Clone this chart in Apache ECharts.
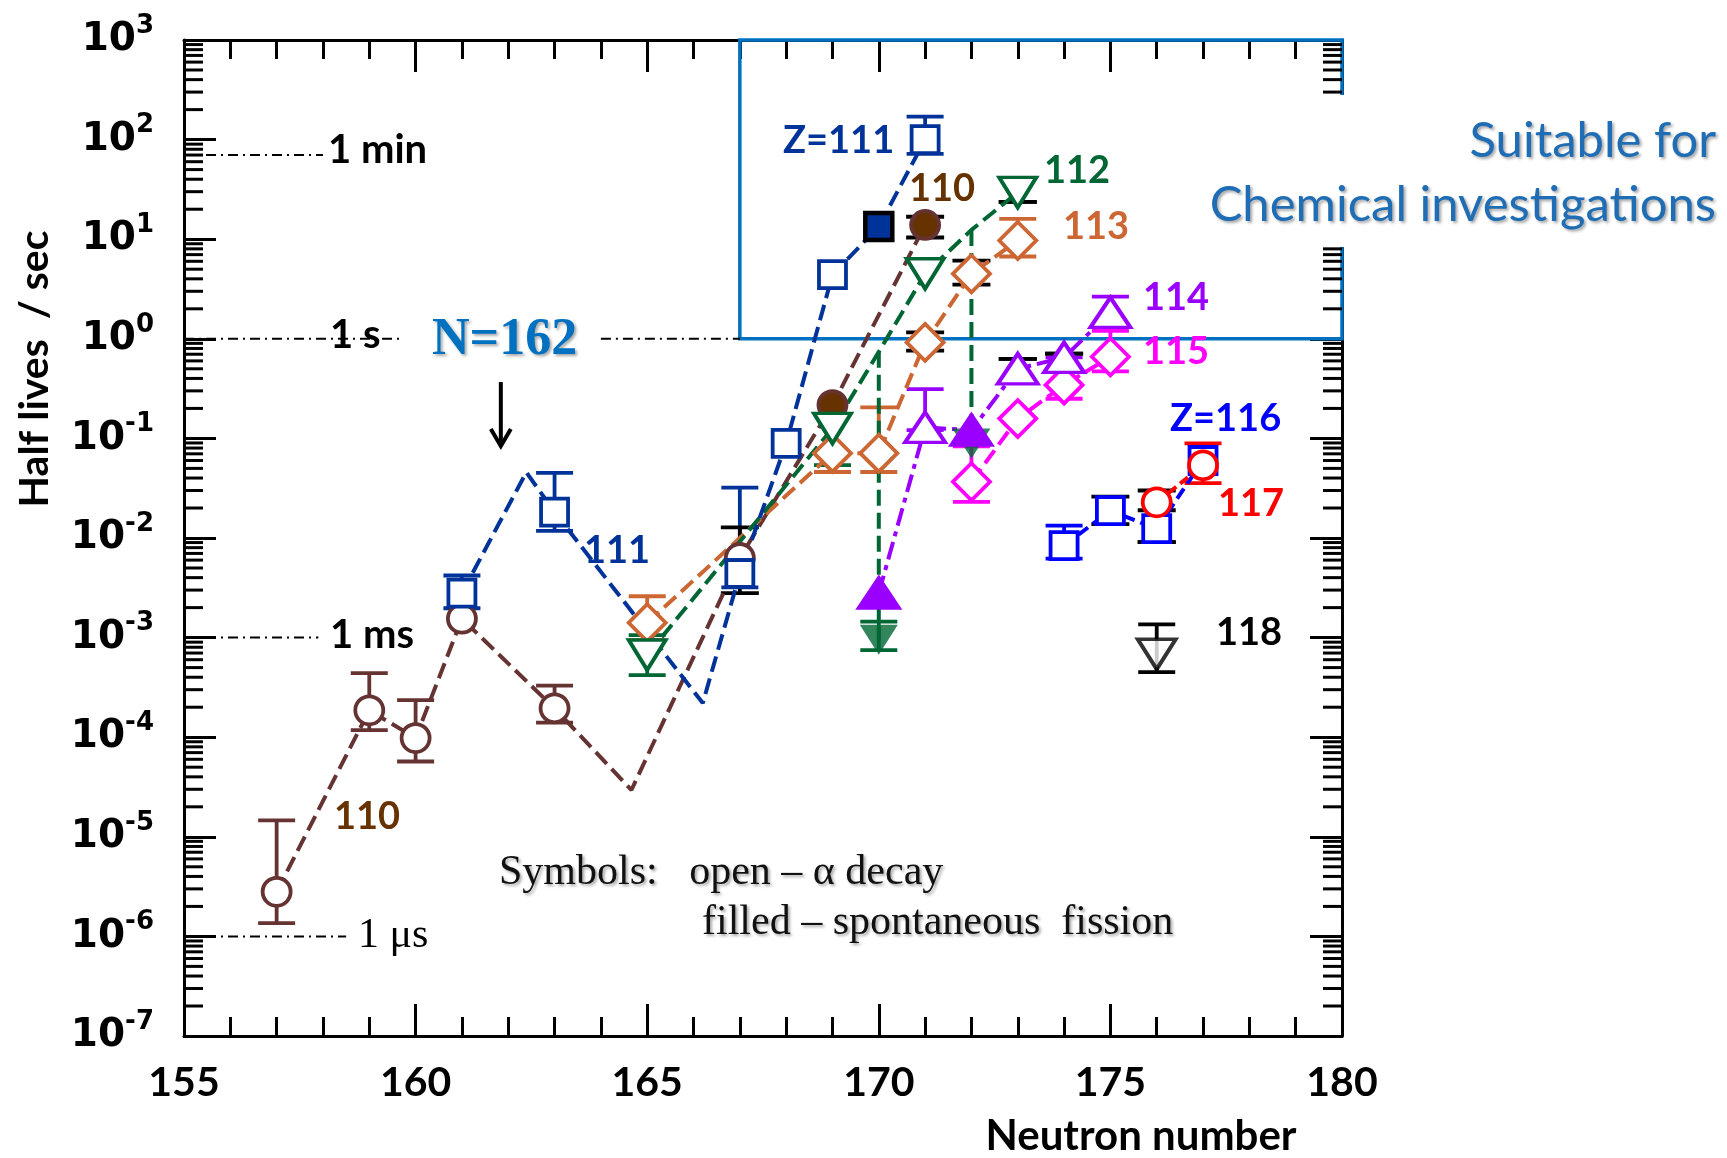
<!DOCTYPE html>
<html><head><meta charset="utf-8">
<script src="https://cdn.jsdelivr.net/npm/echarts@6/dist/echarts.min.js"></script>
<style>html,body{margin:0;padding:0;background:#fff}#c{width:1727px;height:1158px}</style>
</head><body><div id="c"></div><script>
// ---------- data ----------
const xMin = 155, xMax = 180, xStep = 5;
const yMin = 1e-7, yMax = 1e3, yDecadeStep = 1;
const yMinorMantissas = [2,3,4,5,6,7,8,9];
const yMinorDecades = [-7,-6,-5,-4,-3,-2,-1,0,1,2];

// kind: 'o' open symbol, 'f' filled symbol (spontaneous fission), '-' line vertex only
const z110N = [157,159,160,161,163,164.66,167,169,171];
const z110T = [2.8e-6,1.86e-4,9.8e-5,1.55e-3,1.95e-4,2.95e-5,6.3e-3,0.216,13.9];
const z110K = ['o','o','o','o','o','-','o','f','f'];
const z110Err = [[157,1.46e-5,1.36e-6],[159,4.4e-4,1.18e-4],[160,2.36e-4,5.7e-5],[163,3.3e-4,1.4e-4]];

const z111N = [161,162.39,163,166.2,167,168,169,170,171];
const z111T = [2.8e-3,0.0457,0.0182,2.2e-4,4.4e-3,0.089,4.4,13.4,100];
const z111K = ['o','-','o','-','o','o','o','f','o'];
const z111Err = [[161,4.2e-3,1.97e-3],[163,0.045,0.0118],[167,0.032,3.2e-3],[171,170,72]];

const z112N = [165,169,170,171,172,173];
const z112T = [6.7e-4,0.126,0.74,4.5,12.4,29.5];
const z112K = ['o','o','-','o','-','o'];
const z112FissN = [170,172];
const z112FissT = [9.5e-4,0.089];
const z112Err = [[165,1.06e-3,4.2e-4],[169,0.17,0.054],[170,1.45e-3,7.5e-4]];

const z113N = [165,169,170,171,172,173];
const z113T = [1.41e-3,0.071,0.071,0.92,4.5,9.7];
const z113K = ['o','o','o','o','o','o'];
const z113Err = [[165,2.6e-3,9.5e-4],[169,0.071,0.046],[170,0.205,0.046],[173,16,6.7]];

const z114N = [170,171,172,173,174,175];
const z114T = [2.8e-3,0.129,0.121,0.50,0.65,1.84];
const z114K = ['f','o','f','o','o','o'];
const z114Err = [[171,0.313,0.121],[174,0.65,0.5],[175,2.65,1.41]];

const z115N = [172,173,174,175];
const z115T = [0.0367,0.158,0.344,0.66];
const z115K = ['o','o','o','o'];
const z115Err = [[172,0.083,0.023],[174,0.47,0.25],[175,1.2,0.47]];

const z116N = [174,175,176,177];
const z116T = [8.4e-3,0.0188,0.0124,0.06];
const z116K = ['o','o','o','o'];
const z116Err = [[174,0.0133,6.2e-3]];

const z117N = [176,177];
const z117T = [0.0228,0.0537];
const z117K = ['o','o'];
const z117Err = [[177,0.089,0.0355]];

const z118N = [176];
const z118T = [6.8e-4];
const z118Err = [[176,1.36e-3,4.5e-4]];

const blackErr = [[167,0.0128,2.8e-3],[171,16.8,10.4],[171,1.16,0.76],[172,6.1,3.5],[173,23.7,23.7],
                  [173,0.63,0.63],[174,0.71,0.71],[175,0.026,0.0138],[176,0.030,0.019],[176,9.1e-3,9.1e-3]];

// reference time lines: value, segments in N
const refT = [70, 1, 1e-3, 1e-6];
const refSegs = [[[155,158.0]], [[155,159.7],[164.0,167]], [[155,157.9]], [[155,158.5]]];
const refLabels = ['1 min', '1 s', '1 ms', '1 μs'];

// N=162 arrow
const arrowN = 161.84, arrowTop = 0.368, arrowBottom = 0.084;

// chemistry box
const boxN = [167, 180], boxT = [1, 1000];

// ---------- chart ----------
const chart = echarts.init(document.getElementById('c'), null, {renderer:'canvas'});
const LW = 3.8;

function lineSeries(N, T, K, color, o) {
  const data = N.map((n, i) => {
    const item = {value:[n, T[i]]};
    if (K[i] === '-') item.symbol = 'none';
    else if (K[i] === 'f') item.itemStyle = {color: o.fill || color, borderColor: o.fillBorder || color, borderWidth: o.fillBorderWidth || LW};
    return item;
  });
  return {type:'line', data, symbol:o.symbol, symbolSize:o.size, symbolRotate:o.rotate || 0,
    lineStyle:{color, width:4, type:o.dash || [16,7]},
    itemStyle:{color:'#fff', borderColor:color, borderWidth:LW},
    z:3, silent:true, animation:false, clip:false};
}
function errSeries(data, color, half) {
  return {type:'custom', data, encode:{x:0, y:[1,2]}, z:2, silent:true, animation:false, clip:false,
    renderItem(params, api) {
      const x = api.value(0);
      const a = api.coord([x, api.value(1)]);
      const b = api.coord([x, api.value(2)]);
      const st = {stroke:color, lineWidth:LW};
      return {type:'group', children:[
        {type:'line', shape:{x1:a[0], y1:a[1], x2:b[0], y2:b[1]}, style:st},
        {type:'line', shape:{x1:a[0]-half, y1:a[1], x2:a[0]+half, y2:a[1]}, style:st},
        {type:'line', shape:{x1:b[0]-half, y1:b[1], x2:b[0]+half, y2:b[1]}, style:st}]};
    }};
}

const C110 = '#663333', C111 = '#003399', C112 = '#006633', C113 = '#CC6633', C114 = '#9900FF',
      C115 = '#FF00FF', C116 = '#0000FF', C117 = '#FF0000', C118 = '#000000';

const series = [];
// minor log ticks on left and right
const minorData = [];
yMinorDecades.forEach(e => yMinorMantissas.forEach(m => minorData.push([xMin, m * Math.pow(10, e)])));
series.push({type:'custom', data:minorData, encode:{x:0, y:1}, z:1, silent:true, animation:false, clip:false,
  renderItem(params, api) {
    const v = api.value(1);
    const L = api.coord([xMin, v]), R = api.coord([xMax, v]);
    const st = {stroke:'#000', lineWidth:3};
    return {type:'group', children:[
      {type:'line', shape:{x1:L[0], y1:L[1], x2:L[0]+19, y2:L[1]}, style:st},
      {type:'line', shape:{x1:R[0], y1:R[1], x2:R[0]-19, y2:R[1]}, style:st}]};
  }});
// reference dash-dot lines
refT.forEach((t, i) => refSegs[i].forEach(s => series.push({type:'line', data:[[s[0], t],[s[1], t]], symbol:'none',
  lineStyle:{color:'#000', width:2, type:[10,5,2,5]}, z:1, silent:true, animation:false, clip:false})));

// error bars
series.push(errSeries(z110Err, C110, 18.5));
series.push(errSeries(z111Err, C111, 18.5));
series.push(errSeries(z112Err, C112, 18.5));
series.push(errSeries(z113Err, C113, 18.5));
series.push(errSeries(z114Err, C114, 18.5));
series.push(errSeries(z115Err, C115, 18.5));
series.push(errSeries(z116Err, C116, 18.5));
series.push(errSeries(z117Err, C117, 18.5));
series.push(errSeries(z118Err, C118, 18.5));
series.push(errSeries(blackErr, '#000', 19));

// green vertical drops to fission points
z112FissN.forEach((n, i) => {
  const top = z112T[z112N.indexOf(n)];
  series.push({type:'line', data:[[n, top],[n, z112FissT[i]]], symbol:'none',
    lineStyle:{color:C112, width:4, type:[16,7]}, z:2, silent:true, animation:false});
});

series.push(lineSeries(z110N, z110T, z110K, C110, {symbol:'circle', size:28, fill:'#663300', fillBorder:C110}));
series.push(lineSeries(z113N, z113T, z113K, C113, {symbol:'diamond', size:[37,37]}));
series.push(lineSeries(z112N, z112T, z112K, C112, {symbol:'triangle', size:[37,30], rotate:180}));
series.push({type:'scatter', data:z112FissN.map((n,i)=>[n, z112FissT[i]]), symbol:'triangle', symbolSize:[38,30], symbolRotate:180,
  itemStyle:{color:C112}, z:3, silent:true, animation:false});
series.push(lineSeries(z111N, z111T, z111K, C111, {symbol:'rect', size:27, fill:C111, fillBorder:'#000', fillBorderWidth:4.5}));
series.push(lineSeries(z115N, z115T, z115K, C115, {symbol:'diamond', size:[37,37], dash:[16,7]}));
series.push(lineSeries(z114N, z114T, z114K, C114, {symbol:'triangle', size:[40,30], dash:[18,6,5,6]}));
series.push(lineSeries(z116N, z116T, z116K, C116, {symbol:'rect', size:27, dash:[12,6]}));
series.push(lineSeries(z117N, z117T, z117K, C117, {symbol:'circle', size:28, dash:[10,5]}));
series.push({type:'scatter', data:z118N.map((n,i)=>[n, z118T[i]]), symbol:'triangle', symbolSize:[38,30], symbolRotate:180,
  itemStyle:{color:'#fff', borderColor:C118, borderWidth:LW}, z:3, silent:true, animation:false, clip:false,
  markArea:{silent:true, itemStyle:{color:'rgba(0,0,0,0)', borderColor:'#0070C0', borderWidth:3.5},
    data:[[{coord:[boxN[0], boxT[0]]}, {coord:[boxN[1], boxT[1]]}]]}});
// arrow at N=162
series.push({type:'custom', data:[[arrowN, arrowTop, arrowBottom]], encode:{x:0, y:[1,2]}, z:3, silent:true, animation:false, clip:false,
  renderItem(params, api) {
    const a = api.coord([api.value(0), api.value(1)]);
    const b = api.coord([api.value(0), api.value(2)]);
    const st = {stroke:'#000', lineWidth:4};
    return {type:'group', children:[
      {type:'line', shape:{x1:a[0], y1:a[1], x2:b[0], y2:b[1]}, style:st},
      {type:'polyline', shape:{points:[[b[0]-10, b[1]-17],[b[0], b[1]],[b[0]+10, b[1]-17]]}, style:Object.assign({fill:'none'}, st)}]};
  }});

const xAxisBase = {type:'value', min:xMin, max:xMax, interval:xStep,
  axisLine:{show:true, lineStyle:{color:'#000', width:3}},
  axisTick:{show:true, inside:true, length:32, lineStyle:{color:'#000', width:3}},
  minorTick:{show:true, splitNumber:5, length:19, lineStyle:{color:'#000', width:3}},
  splitLine:{show:false}, minorSplitLine:{show:false}};
const yAxisBase = {type:'log', logBase:10, min:yMin, max:yMax, interval:yDecadeStep, splitNumber:10,
  axisLine:{show:true, lineStyle:{color:'#000', width:3}},
  axisTick:{show:true, inside:true, length:32, lineStyle:{color:'#000', width:3}},
  splitLine:{show:false}};

const labelFont = 'Lato';
function txt(x, y, text, color, font, extra, rot) {
  return {type:'text', x, y, rotation: rot || 0, silent:true, z:10,
    style:Object.assign({text, fill:color, font, align:'left', verticalAlign:'middle'}, extra || {})};
}
const shadow = {textShadowColor:'rgba(0,0,0,0.35)', textShadowBlur:3, textShadowOffsetX:2, textShadowOffsetY:2};
const zFont = 'bold 38px Lato';

chart.setOption({
  animation:false,
  backgroundColor:'#fff',
  grid:{left:184, top:40, width:1158, height:996, containLabel:false},
  xAxis:[
    Object.assign({}, xAxisBase, {position:'bottom',
      axisLabel:{show:true, margin:26, color:'#000', fontFamily:labelFont, fontWeight:'bold', fontSize:41}}),
    Object.assign({}, xAxisBase, {position:'top', axisLabel:{show:false}})
  ],
  yAxis:[
    Object.assign({}, yAxisBase, {position:'left',
      axisLabel:{show:true, margin:30, align:'right', hideOverlap:false, showMinLabel:true, showMaxLabel:true,
        formatter:v => '{b|10}{s|' + Math.round(Math.log10(v)) + '}',
        rich:{b:{fontFamily:'DejaVu Sans', fontWeight:'bold', fontSize:39, color:'#000', verticalAlign:'middle', lineHeight:54},
              s:{fontFamily:'DejaVu Sans', fontWeight:'bold', fontSize:26, color:'#000', verticalAlign:'top', lineHeight:26}}}}),
    Object.assign({}, yAxisBase, {position:'right', axisLabel:{show:false}})
  ],
  series,
  graphic:[
    {type:'rect', shape:{x:1213, y:95, width:510, height:152}, style:{fill:'#fff'}, z:9, silent:true},
    txt(35, 369, 'Half lives  / sec', '#000', 'bold 41px Lato', {align:'center'}, Math.PI / 2),
    txt(1141, 1136, 'Neutron number', '#000', 'bold 42px Lato', {align:'center'}),
    txt(328, 150, refLabels[0], '#000', 'bold 40px Lato'),
    txt(330, 335, refLabels[1], '#000', 'bold 40px Lato'),
    txt(330, 635, refLabels[2], '#000', 'bold 40px Lato'),
    txt(358, 936, refLabels[3], '#000', '42px "Liberation Serif"'),
    txt(783, 141, 'Z=111', C111, zFont),
    txt(909, 189, '110', '#663300', zFont),
    txt(1044, 171, '112', C112, zFont),
    txt(1063, 227, '113', C113, zFont),
    txt(1143, 298, '114', C114, zFont),
    txt(1143, 352, '115', C115, zFont),
    txt(1170, 419, 'Z=116', C116, zFont),
    txt(1218, 504, '117', C117, zFont),
    txt(1216, 633, '118', '#000', zFont),
    txt(584, 551, '111', C111, zFont),
    txt(334, 817, '110', '#663300', zFont),
    txt(432, 341, 'N=162', '#0070C0', 'bold 52px "Liberation Serif"', shadow),
    txt(499, 873, 'Symbols:   open – α decay', '#111', '42px "Liberation Serif"', shadow),
    txt(702, 923, 'filled – spontaneous  fission', '#111', '42px "Liberation Serif"', shadow),
    txt(1716, 141, 'Suitable for', '#1F6DB4', '49px Lato', Object.assign({align:'right'}, shadow)),
    txt(1716, 205, 'Chemical investigations', '#1F6DB4', '49px Lato', Object.assign({align:'right'}, shadow))
  ]
});
</script></body></html>
